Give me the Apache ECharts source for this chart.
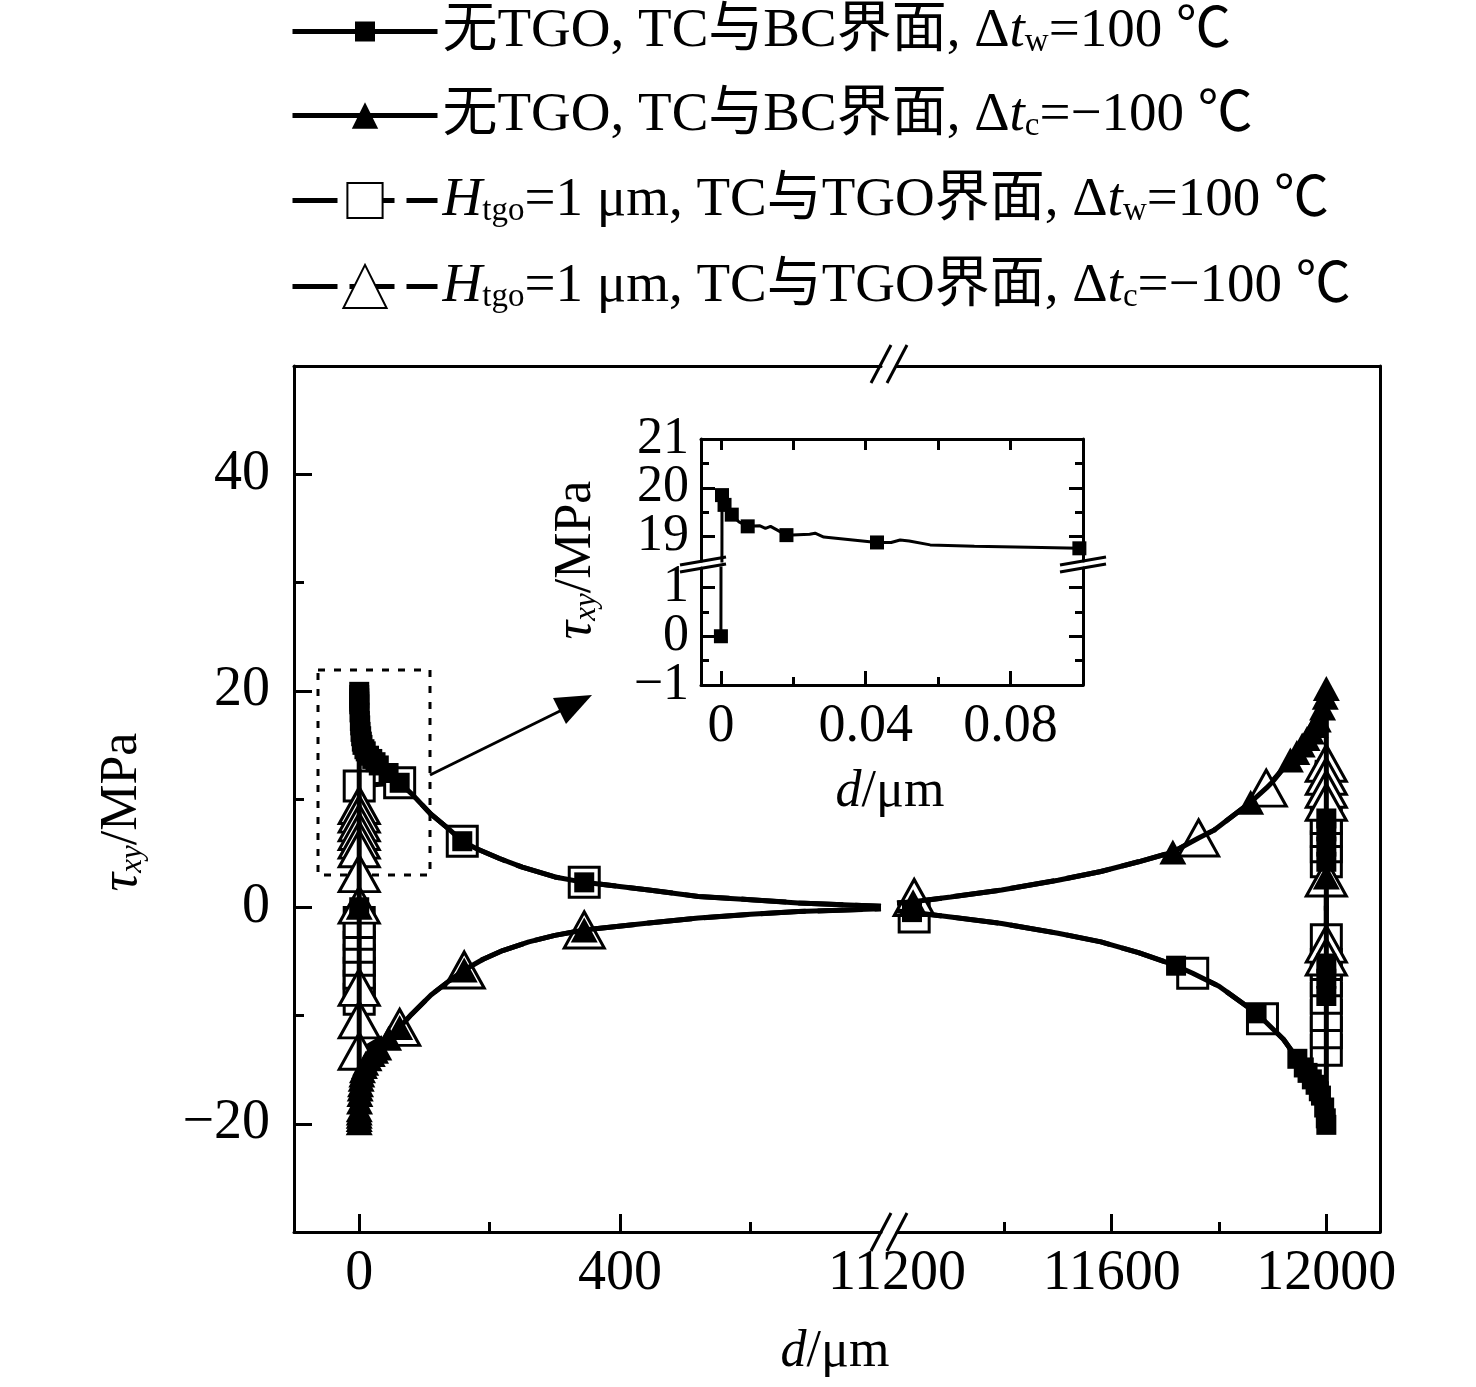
<!DOCTYPE html>
<html lang="zh">
<head>
<meta charset="UTF-8">
<title>tau_xy along the interface</title>
<script src="https://cdn.jsdelivr.net/npm/echarts@6/dist/echarts.min.js"></script>
<style>
  html, body { margin: 0; padding: 0; background: #fff; }
</style>
</head>
<body>
<div id="main" style="width: 1476px; height: 1387px;"></div>
<script>
// ---- data (d in µm, tau in MPa) ----
// series names
const names = [
  '无TGO, TC与BC界面, Δtw=100 ℃',
  '无TGO, TC与BC界面, Δtc=−100 ℃',
  'Htgo=1 μm, TC与TGO界面, Δtw=100 ℃',
  'Htgo=1 μm, TC与TGO界面, Δtc=−100 ℃'
];

// left part of the broken axis (0 ... 800 µm)
const s1LeftLine = [[0,0],[0.001,19.9],[0.01,19.3],[0.1,18.75],[0.5,18],[1,17.2],[1.5,16.8],[2,16.2],[3,15.8],[4,15.3],[5,15],[8,14.6],[10,14.4],[15,14],[20,13.7],[25,13.4],[30,13.1],[40,12.6],[45,12.4],[62,11.5],[80,10.5],[110,8.6],[138,7.2],[158,6.1],[180,5.4],[215,4.5],[250,3.7],[300,2.8],[345,2.3],[444,1.6],[520,1.0],[600,0.7],[673,0.4],[800,0.1]];
const s1LeftMarks = [[0,0],[0.001,19.9],[0.003,19.6],[0.01,19.3],[0.03,19.0],[0.1,18.75],[0.5,18],[1,17.2],[1.5,16.8],[2,16.2],[3,15.8],[4,15.3],[5,15],[8,14.6],[10,14.4],[15,14],[20,13.7],[25,13.4],[30,13.1],[45,12.4],[62,11.5],[158,6.1],[345,2.3]];

const s2LeftLine = [[0,0],[0.001,-19.9],[0.01,-19.3],[0.1,-18.7],[0.5,-18],[1,-17.3],[1.5,-16.8],[2,-16.4],[3,-15.9],[4,-15.5],[5,-15.1],[8,-14.7],[10,-14.4],[15,-14],[20,-13.6],[25,-13.3],[30,-13],[40,-12.3],[45,-12.1],[62,-11.1],[80,-9.9],[110,-8.1],[138,-6.8],[161,-5.8],[190,-4.8],[220,-4.0],[260,-3.2],[300,-2.6],[345,-2.1],[444,-1.45],[520,-1.0],[600,-0.65],[673,-0.4],[800,-0.15]];
const s2LeftMarks = [[0,0],[0.001,-19.9],[0.003,-19.6],[0.01,-19.3],[0.03,-19],[0.1,-18.7],[0.5,-18],[1,-17.3],[1.5,-16.8],[2,-16.4],[3,-15.9],[4,-15.5],[5,-15.1],[8,-14.7],[10,-14.4],[15,-14],[20,-13.6],[25,-13.3],[30,-13],[45,-12.1],[62,-11.1],[161,-5.8],[345,-2.1]];

const s3LeftLine = [[0,-8.5],[0,-7.3],[0,-6.1],[0,-4.9],[0,-3.7],[0,-2.5],[0,-1.4],[0,11.2],[62,11.5],[80,10.5],[110,8.6],[138,7.2],[158,6.1],[180,5.4],[215,4.5],[250,3.7],[300,2.8],[345,2.3],[444,1.6],[520,1.0],[600,0.7],[673,0.4],[800,0.1]];
const s3LeftMarks = [[0,-8.5],[0,-7.3],[0,-6.1],[0,-4.9],[0,-3.7],[0,-2.5],[0,-1.4],[0,11.2],[62,11.5],[158,6.1],[345,2.3]];

const s4LeftLine = [[0,9.4],[0,8.6],[0,7.8],[0,7.0],[0,6.2],[0,5.4],[0,3.1],[0,0.2],[0,-7.4],[0,-10.4],[0,-13.3],[62,-11.1],[80,-9.9],[110,-8.1],[138,-6.8],[161,-5.8],[190,-4.8],[220,-4.0],[260,-3.2],[300,-2.6],[345,-2.1],[444,-1.45],[520,-1.0],[600,-0.65],[673,-0.4],[800,-0.15]];
const s4LeftMarks = [[0,9.4],[0,8.6],[0,7.8],[0,7.0],[0,6.2],[0,5.4],[0,3.1],[0,0.2],[0,-7.4],[0,-10.4],[0,-13.3],[62,-11.1],[161,-5.8],[345,-2.1]];

// right part of the broken axis (11200 ... 12000 µm)
const s1RightLine = [[11200,-0.35],[11228,-0.45],[11300,-0.9],[11395,-1.5],[11500,-2.4],[11580,-3.2],[11650,-4.2],[11720,-5.4],[11751,-6.1],[11800,-7.3],[11870,-9.8],[11881,-10.3],[11920,-12.2],[11946,-14],[11965,-15.3],[11980,-16.4],[11990,-17.4],[11996,-18.5],[11999,-19.5],[12000,-20.1],[12000,-8.2],[12000,-6.6],[12000,-5.2],[12000,4.2],[12000,5.6],[12000,7.0],[12000,8.2]];
const s1RightMarks = [[11228,-0.45],[11720,-5.4],[11870,-9.8],[11946,-14],[11958,-14.8],[11965,-15.3],[11973,-15.9],[11980,-16.4],[11986,-17],[11990,-17.4],[11996,-18.5],[11999,-19.5],[12000,-20.1],[12000,-8.2],[12000,-6.6],[12000,-5.2],[12000,4.2],[12000,5.6],[12000,7.0],[12000,8.2]];

const s2RightLine = [[11200,0.4],[11230,0.5],[11300,0.95],[11395,1.6],[11500,2.5],[11580,3.3],[11650,4.2],[11714,5.1],[11762,6.4],[11790,7.1],[11859,9.7],[11888,11.0],[11900,11.6],[11933,13.6],[11955,15.0],[11972,16.2],[11985,17.3],[11993,18.4],[11998,19.4],[12000,20.2],[12000,2.8]];
const s2RightMarks = [[11230,0.5],[11714,5.1],[11859,9.7],[11933,13.6],[11945,14.3],[11955,15.0],[11964,15.6],[11972,16.2],[11979,16.8],[11985,17.3],[11993,18.4],[11998,19.4],[12000,20.2],[12000,2.8]];

const s3RightLine = [[11200,-0.35],[11232,-0.5],[11300,-0.9],[11395,-1.5],[11500,-2.4],[11580,-3.2],[11650,-4.2],[11720,-5.4],[11751,-6.1],[11800,-7.3],[11870,-9.8],[11881,-10.3],[11920,-12.2],[11946,-14],[12000,-13.2],[12000,-11.6],[12000,-10],[12000,-8.4],[12000,-6.8],[12000,-5.3],[12000,-3],[12000,4.2],[12000,5.6],[12000,7],[12000,8.2]];
const s3RightMarks = [[11232,-0.9],[11751,-6.1],[11881,-10.3],[12000,-13.2],[12000,-11.6],[12000,-10],[12000,-8.4],[12000,-6.8],[12000,-5.3],[12000,-3],[12000,4.2],[12000,5.6],[12000,7],[12000,8.2]];

const s4RightLine = [[11200,0.4],[11232,0.5],[11300,0.95],[11395,1.6],[11500,2.5],[11580,3.3],[11650,4.2],[11714,5.1],[11762,6.4],[11790,7.1],[11859,9.7],[11888,11.0],[11933,13.6],[12000,13.3],[12000,12.1],[12000,10.9],[12000,9.7],[12000,2.7],[12000,-3.4],[12000,-4.6]];
const s4RightMarks = [[11232,0.9],[11762,6.4],[11888,11.0],[12000,13.3],[12000,12.1],[12000,10.9],[12000,9.7],[12000,2.7],[12000,-3.4],[12000,-4.6]];

// inset: first series near d = 0
const insetLine = [[0,0],[0.0003,19.85],[0.001,19.65],[0.002,19.55],[0.003,19.45],[0.005,19.3],[0.0074,19.21],[0.0108,19.22],[0.0123,19.17],[0.0137,19.21],[0.0181,19.03],[0.0245,19.05],[0.026,19.07],[0.0284,18.99],[0.0431,18.88],[0.047,18.88],[0.0495,18.93],[0.052,18.91],[0.0578,18.83],[0.07,18.8],[0.085,18.78],[0.099,18.76]];
const insetMarks = [[0,0],[0.0003,19.85],[0.001,19.65],[0.003,19.45],[0.0074,19.21],[0.0181,19.03],[0.0431,18.88],[0.099,18.76]];

// tick values / labels
const yMainTicks = [-20, 0, 20, 40];
const yMainMinor = [-10, 10, 30];
const xLeftTicks = [0, 400];
const xLeftMinor = [200, 600];
const xRightTicks = [11600, 12000];
const xRightLabels = [11200, 11600, 12000];
const xRightMinor = [11400, 11800];
const insetXTicks = [0, 0.04, 0.08];
const insetXMinor = [0.02, 0.06];
const insetXTop = [0, 0.02, 0.04, 0.06, 0.08];
const insetUpTicks = [19, 20];
const insetUpLabelsA = [19, 21];
const insetUpLabelsB = [20];
const insetUpMinor = [19.5, 20.5];
const insetLowTicks = [0, 1];
const insetLowLabelsA = [-1, 1];
const insetLowLabelsB = [0];
const insetLowMinor = [-0.5, 0.5];

// ---- styling ----
const FONT = "'Liberation Serif', 'Noto Sans CJK SC', serif";
const BLACK = '#000';

function richSet(size) {
  const sub = Math.round(size * 0.6);
  const pad = Math.round(size * 0.75);
  return {
    n: { fontFamily: FONT, fontSize: size, color: BLACK, lineHeight: size },
    i: { fontFamily: FONT, fontSize: size, fontStyle: 'italic', color: BLACK, lineHeight: size },
    s: { fontFamily: FONT, fontSize: sub, color: BLACK, lineHeight: sub, verticalAlign: 'bottom', padding: [pad, 0, 0, 0] },
    si: { fontFamily: FONT, fontSize: sub, fontStyle: 'italic', color: BLACK, lineHeight: sub, verticalAlign: 'bottom', padding: [pad, 0, 0, 0] }
  };
}
const legendRich = richSet(55);
const titleRich = richSet(52);

const legendText = {};
legendText[names[0]] = '{n|无TGO, TC与BC界面, Δ}{i|t}{s|w}{n|=100 ℃}';
legendText[names[1]] = '{n|无TGO, TC与BC界面, Δ}{i|t}{s|c}{n|=−100 ℃}';
legendText[names[2]] = '{i|H}{s|tgo}{n|=1 μm, TC与TGO界面, Δ}{i|t}{s|w}{n|=100 ℃}';
legendText[names[3]] = '{i|H}{s|tgo}{n|=1 μm, TC与TGO界面, Δ}{i|t}{s|c}{n|=−100 ℃}';

const minus = v => String(v).replace('-', '−');
const labelStyle = (size, margin, values) => ({
  show: true, fontFamily: FONT, fontSize: size, color: BLACK, margin: margin, lineHeight: size * 0.8,
  interval: 0, hideOverlap: false, showMinLabel: true, showMaxLabel: true,
  customValues: values, formatter: minus
});
const noLabel = { show: false };
const line = (show) => ({ show: show, onZero: false, lineStyle: { color: BLACK, width: 3 } });
const ticks = (values, len, w) => ({ show: true, inside: true, length: len, customValues: values, lineStyle: { color: BLACK, width: w || 3 } });

function axis(grid, pos, min, max, opts) {
  return Object.assign({
    type: 'value', gridIndex: grid, position: pos, min: min, max: max,
    axisLine: line(false), axisTick: { show: false }, axisLabel: noLabel, splitLine: { show: false }
  }, opts);
}

const sym = {
  0: { symbol: 'rect', size: 20, fill: BLACK, dash: 'solid', z: 3 },
  1: { symbol: 'triangle', size: [27, 25], fill: BLACK, dash: 'solid', z: 3 },
  2: { symbol: 'rect', size: 30, fill: '#fff', dash: [45, 12], z: 1 },
  3: { symbol: 'triangle', size: [40, 36], fill: '#fff', dash: [45, 12], z: 1 }
};

function curve(k, data, xi, yi) {
  const s = sym[k];
  return {
    type: 'line', name: names[k], data: data, xAxisIndex: xi, yAxisIndex: yi,
    showSymbol: false, symbol: s.symbol, smooth: false,
    lineStyle: { color: BLACK, width: 5, type: s.dash },
    itemStyle: { color: s.fill, borderColor: BLACK, borderWidth: s.fill === BLACK ? 0 : 3 },
    z: s.z
  };
}
function marks(k, data, xi, yi) {
  const s = sym[k];
  return {
    type: 'scatter', name: names[k], data: data, xAxisIndex: xi, yAxisIndex: yi,
    symbol: s.symbol, symbolSize: s.size,
    itemStyle: { color: s.fill, borderColor: BLACK, borderWidth: s.fill === BLACK ? 0 : 3, opacity: 1 },
    z: s.z + 1
  };
}

const series = [];
// open markers first so the filled ones sit on top of them
[[2, s3LeftLine, s3LeftMarks, s3RightLine, s3RightMarks],
 [3, s4LeftLine, s4LeftMarks, s4RightLine, s4RightMarks],
 [0, s1LeftLine, s1LeftMarks, s1RightLine, s1RightMarks],
 [1, s2LeftLine, s2LeftMarks, s2RightLine, s2RightMarks]].forEach(function (r) {
  series.push(curve(r[0], r[1], 0, 0));
  series.push(marks(r[0], r[2], 0, 0));
  series.push(curve(r[0], r[3], 3, 2));
  series.push(marks(r[0], r[4], 3, 2));
});
// inset (upper and lower part of the broken y axis)
[[6, 3], [7, 7]].forEach(function (ax) {
  series.push({
    type: 'line', name: 'inset', data: insetLine, xAxisIndex: ax[0], yAxisIndex: ax[1],
    showSymbol: false, lineStyle: { color: BLACK, width: 3 }, z: 5
  });
  series.push({
    type: 'scatter', name: 'inset', data: insetMarks, xAxisIndex: ax[0], yAxisIndex: ax[1],
    symbol: 'rect', symbolSize: 14, itemStyle: { color: BLACK, opacity: 1 }, z: 6
  });
});

const legendTops = [-15, 69, 154, 240];
const legendIconH = [25, 33, 44, 54];
const legends = names.map(function (nm, k) {
  return {
    data: [nm], left: 290, top: legendTops[k], orient: 'vertical', padding: 0,
    itemWidth: 145, itemHeight: legendIconH[k], selectedMode: false,
    lineStyle: { width: 5 },
    formatter: function (n) { return legendText[n]; },
    textStyle: { fontFamily: FONT, fontSize: 55, color: BLACK, rich: legendRich }
  };
});

const option = {
  animation: false,
  backgroundColor: '#fff',
  legend: legends,
  grid: [
    { left: 294, top: 366, width: 587, height: 866, outerBoundsMode: 'none' },
    { left: 897, top: 366, width: 483, height: 866, outerBoundsMode: 'none' },
    { left: 701, top: 439, width: 382, height: 122, outerBoundsMode: 'none' },
    { left: 701, top: 568, width: 382, height: 117, outerBoundsMode: 'none' }
  ],
  xAxis: [
    axis(0, 'bottom', -100, 800, { axisLine: line(true), axisTick: ticks(xLeftTicks, 18), axisLabel: labelStyle(56, 20, xLeftTicks) }),
    axis(0, 'bottom', -100, 800, { axisTick: ticks(xLeftMinor, 10) }),
    axis(0, 'top', -100, 800, { axisLine: line(true) }),
    axis(1, 'bottom', 11200, 12100, { axisLine: line(true), axisTick: ticks(xRightTicks, 18), axisLabel: labelStyle(56, 20, xRightLabels) }),
    axis(1, 'bottom', 11200, 12100, { axisTick: ticks(xRightMinor, 10) }),
    axis(1, 'top', 11200, 12100, { axisLine: line(true) }),
    axis(2, 'top', -0.0055, 0.1, { axisLine: line(true), axisTick: ticks(insetXTop, 11) }),
    axis(3, 'bottom', -0.0055, 0.1, { axisLine: line(true), axisTick: ticks(insetXTicks, 14), axisLabel: labelStyle(54, 20, insetXTicks) }),
    axis(3, 'bottom', -0.0055, 0.1, { axisTick: ticks(insetXMinor, 8) })
  ],
  yAxis: [
    axis(0, 'left', -30, 50, { axisLine: line(true), axisTick: ticks(yMainTicks, 18), axisLabel: labelStyle(56, 24, yMainTicks) }),
    axis(0, 'left', -30, 50, { axisTick: ticks(yMainMinor, 10) }),
    axis(1, 'right', -30, 50, { axisLine: line(true) }),
    axis(2, 'left', 18.5, 21, { axisLine: line(true), axisTick: ticks(insetUpTicks, 14), axisLabel: labelStyle(52, 12, insetUpLabelsA) }),
    axis(2, 'left', 18.5, 21, { axisTick: ticks(insetUpMinor, 8), axisLabel: labelStyle(52, 12, insetUpLabelsB) }),
    axis(2, 'right', 18.5, 21, { axisLine: line(true), axisTick: ticks(insetUpTicks, 14) }),
    axis(2, 'right', 18.5, 21, { axisTick: ticks(insetUpMinor, 8) }),
    axis(3, 'left', -1, 1.4, { axisLine: line(true), axisTick: ticks(insetLowTicks, 14), axisLabel: labelStyle(52, 12, insetLowLabelsA) }),
    axis(3, 'left', -1, 1.4, { axisTick: ticks(insetLowMinor, 8), axisLabel: labelStyle(52, 12, insetLowLabelsB) }),
    axis(3, 'right', -1, 1.4, { axisLine: line(true), axisTick: ticks(insetLowTicks, 14) }),
    axis(3, 'right', -1, 1.4, { axisTick: ticks(insetLowMinor, 8) })
  ],
  series: series,
  graphic: [
    // axis titles
    { type: 'text', x: 835, y: 1352, style: { text: '{i|d}{n|/μm}', rich: titleRich, align: 'center', verticalAlign: 'middle' } },
    { type: 'text', x: 122, y: 812, rotation: Math.PI / 2, style: { text: '{i|τ}{si|xy}{n|/MPa}', rich: titleRich, align: 'center', verticalAlign: 'middle' } },
    { type: 'text', x: 890, y: 792, style: { text: '{i|d}{n|/μm}', rich: titleRich, align: 'center', verticalAlign: 'middle' } },
    { type: 'text', x: 576, y: 560, rotation: Math.PI / 2, style: { text: '{i|τ}{si|xy}{n|/MPa}', rich: titleRich, align: 'center', verticalAlign: 'middle' } },
    // zoom box and arrow
    { type: 'rect', shape: { x: 318, y: 670, width: 112, height: 205 }, style: { fill: 'none', stroke: BLACK, lineWidth: 3, lineDash: [7, 9] } },
    { type: 'line', shape: { x1: 430, y1: 775, x2: 562, y2: 710 }, style: { stroke: BLACK, lineWidth: 3 } },
    { type: 'polygon', shape: { points: [[592, 695], [553, 698], [566, 724]] }, style: { fill: BLACK } },
    // x-axis break marks
    { type: 'line', shape: { x1: 871, y1: 383, x2: 891, y2: 345 }, style: { stroke: BLACK, lineWidth: 3 } },
    { type: 'line', shape: { x1: 887, y1: 383, x2: 907, y2: 345 }, style: { stroke: BLACK, lineWidth: 3 } },
    { type: 'line', shape: { x1: 871, y1: 1251, x2: 891, y2: 1213 }, style: { stroke: BLACK, lineWidth: 3 } },
    { type: 'line', shape: { x1: 887, y1: 1251, x2: 907, y2: 1213 }, style: { stroke: BLACK, lineWidth: 3 } },
    // inset y-axis break marks
    { type: 'line', shape: { x1: 680, y1: 565, x2: 726, y2: 557 }, style: { stroke: BLACK, lineWidth: 3 } },
    { type: 'line', shape: { x1: 680, y1: 572, x2: 726, y2: 564 }, style: { stroke: BLACK, lineWidth: 3 } },
    { type: 'line', shape: { x1: 1060, y1: 565, x2: 1106, y2: 557 }, style: { stroke: BLACK, lineWidth: 3 } },
    { type: 'line', shape: { x1: 1060, y1: 572, x2: 1106, y2: 564 }, style: { stroke: BLACK, lineWidth: 3 } }
  ]
};

const chart = echarts.init(document.getElementById('main'));
chart.setOption(option);
</script>
</body>
</html>
